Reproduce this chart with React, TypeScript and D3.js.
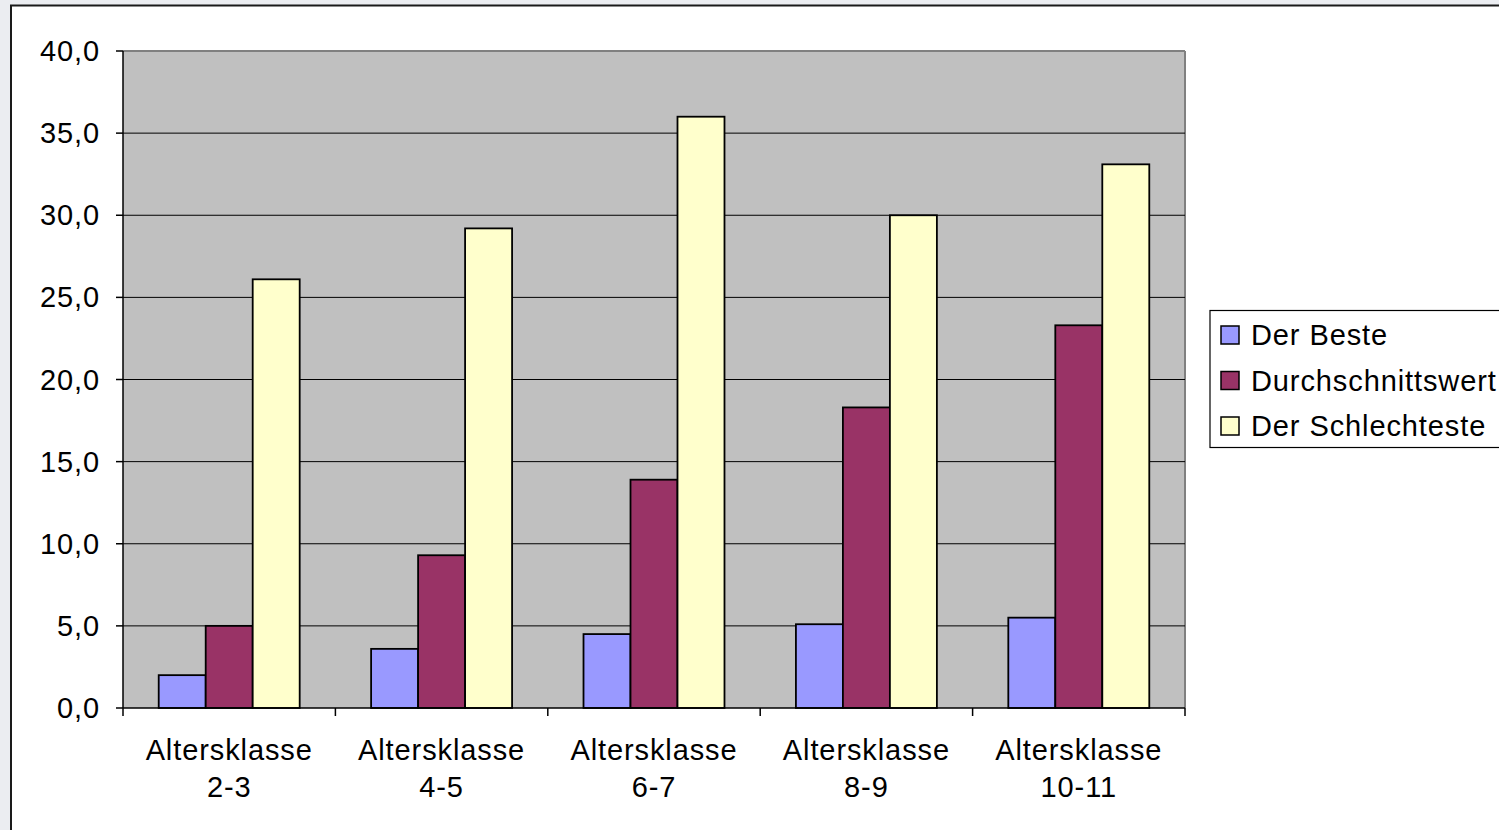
import React from "react";
import * as d3 from "d3";

const categories = ["Altersklasse|2-3", "Altersklasse|4-5", "Altersklasse|6-7", "Altersklasse|8-9", "Altersklasse|10-11"];
const seriesNames = ["Der Beste", "Durchschnittswert", "Der Schlechteste"];
const derBeste = [2.0, 3.6, 4.5, 5.1, 5.5];
const durchschnitt = [5.0, 9.3, 13.9, 18.3, 23.3];
const schlechteste = [26.1, 29.2, 36.0, 30.0, 33.1];
const yTicks = [0, 5, 10, 15, 20, 25, 30, 35, 40];
const colors = ["#9999ff", "#993366", "#ffffcc"];

const W = 1499;
const H = 830;
const plot = { left: 123, right: 1185, top: 51, bottom: 708 };
const font = "'Liberation Sans', Arial, sans-serif";

export default function App() {
  const series = [derBeste, durchschnitt, schlechteste];
  const x = d3.scaleBand<string>().domain(categories).range([plot.left, plot.right]).paddingInner(0).paddingOuter(0);
  const inner = d3.scaleBand<string>().domain(seriesNames).range([0, x.bandwidth()]).paddingInner(0).paddingOuter(0.76);
  const y = d3.scaleLinear().domain([0, 40]).range([plot.bottom, plot.top]);
  const fmt = (v: number) => v.toFixed(1).replace(".", ",");
  const boundaries = d3.range(categories.length + 1).map((i) => plot.left + i * x.bandwidth());

  return (
    <div style={{ position: "absolute", left: 0, top: 0 }}>
      <svg width={W} height={H} style={{ display: "block" }}>
        <rect x={0} y={0} width={W} height={H} fill="#ebedf1" />
        <rect x={11} y={5.5} width={W + 20} height={H + 20} fill="#ffffff" stroke="#1a1a1a" strokeWidth={2} />
        {/* plot area */}
        <rect x={plot.left} y={plot.top} width={plot.right - plot.left} height={plot.bottom - plot.top} fill="#c0c0c0" />
        <line x1={plot.left} x2={plot.right} y1={plot.top} y2={plot.top} stroke="#808080" strokeWidth={2} />
        <line x1={plot.right} x2={plot.right} y1={plot.top} y2={plot.bottom} stroke="#808080" strokeWidth={2} />
        {/* gridlines */}
        {yTicks.filter((t) => t > 0 && t < 40).map((t) => (
          <line key={t} x1={plot.left} x2={plot.right} y1={y(t)} y2={y(t)} stroke="#000" strokeWidth={1} />
        ))}
        {/* bars */}
        {categories.map((c, ci) => (
          <g key={c}>
            {series.map((s, si) => (
              <rect
                key={si}
                x={(x(c) as number) + (inner(seriesNames[si]) as number)}
                y={y(s[ci])}
                width={inner.bandwidth()}
                height={y(0) - y(s[ci])}
                fill={colors[si]}
                stroke="#000"
                strokeWidth={1.8}
              />
            ))}
          </g>
        ))}
        {/* axes */}
        <line x1={plot.left} x2={plot.left} y1={plot.top} y2={plot.bottom} stroke="#000" strokeWidth={1.5} />
        <line x1={plot.left} x2={plot.right} y1={plot.bottom} y2={plot.bottom} stroke="#000" strokeWidth={1.5} />
        {yTicks.map((t) => (
          <g key={t}>
            <line x1={plot.left - 7} x2={plot.left} y1={y(t)} y2={y(t)} stroke="#000" strokeWidth={1.5} />
            <text x={100} y={y(t) + 10} textAnchor="end" fontFamily={font} fontSize={29} letterSpacing={0.9} fill="#000">
              {fmt(t)}
            </text>
          </g>
        ))}
        {boundaries.map((b, i) => (
          <line key={i} x1={b} x2={b} y1={plot.bottom} y2={plot.bottom + 8} stroke="#000" strokeWidth={1.5} />
        ))}
        {categories.map((c) => {
          const [l1, l2] = c.split("|");
          const cx = (x(c) as number) + x.bandwidth() / 2;
          return (
            <text key={c} textAnchor="middle" fontFamily={font} fontSize={29} letterSpacing={0.9} fill="#000">
              <tspan x={cx} y={760}>{l1}</tspan>
              <tspan x={cx} y={797}>{l2}</tspan>
            </text>
          );
        })}
        {/* legend */}
        <rect x={1210} y={310.5} width={W} height={137} fill="#fff" stroke="#000" strokeWidth={1.2} />
        {seriesNames.map((n, i) => (
          <g key={n}>
            <rect x={1221} y={326 + i * 45.5} width={18} height={18} fill={colors[i]} stroke="#000" strokeWidth={1.5} />
            <text x={1251} y={345 + i * 45.5} fontFamily={font} fontSize={29} letterSpacing={0.9} fill="#000">
              {n}
            </text>
          </g>
        ))}
      </svg>
    </div>
  );
}
